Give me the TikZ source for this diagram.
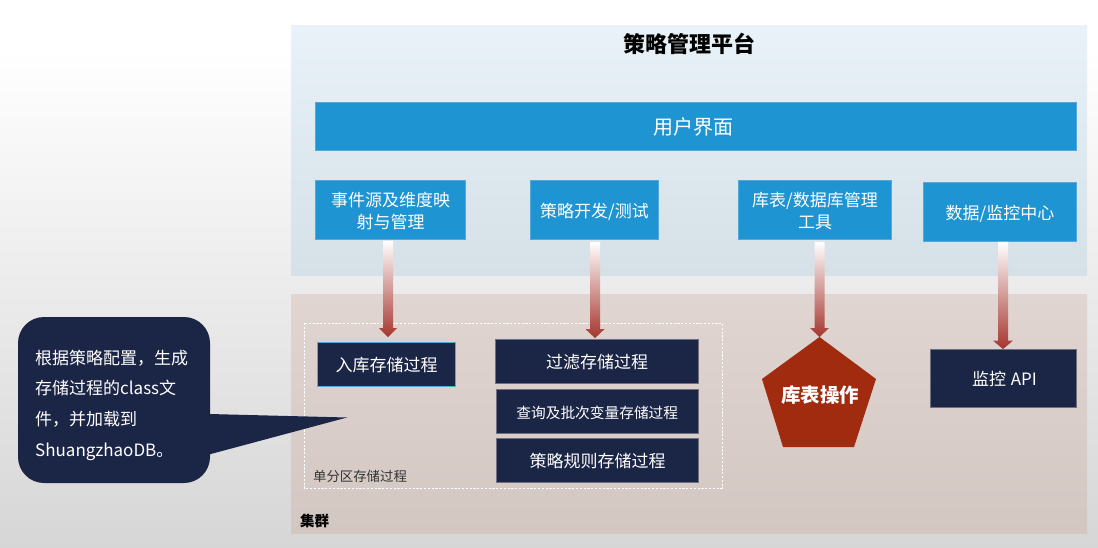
\documentclass[tikz,border=0pt]{standalone}
\usepackage{fontspec}
\setmainfont{Noto Sans CJK SC}
\usetikzlibrary{shapes.geometric,calc}
\definecolor{navy}{HTML}{1B2545}
\definecolor{sky}{HTML}{1F94D2}
\definecolor{skyline}{HTML}{55A9DA}
\definecolor{rust}{HTML}{A12B0E}
\definecolor{arrowred}{HTML}{A5352E}
\definecolor{bgbottom}{HTML}{D6D6D6}
\definecolor{upA}{HTML}{E8F2F8}
\definecolor{upB}{HTML}{D5E0E7}
\definecolor{lowA}{HTML}{E0D5D1}
\definecolor{lowB}{HTML}{D3C7C2}
\definecolor{navyline}{HTML}{6E6F80}
\tikzset{
  x=1pt,y=-1pt,
  bluebox/.style={draw=skyline,line width=.6pt,fill=sky,text=white,align=center,inner sep=0pt,font=\fontsize{17}{21.5}\selectfont},
  navybox/.style={draw=navyline,line width=.6pt,fill=navy,text=white,align=center,inner sep=0pt,font=\fontsize{17}{21.5}\selectfont},
  plainlabel/.style={inner sep=0pt,anchor=center},
}
\newcommand{\boxat}[7]{\node[#1,minimum width={(#5-#3-.8)*1pt},minimum height={(#6-#4-.8)*1pt}] (#2) at ({(#3+#5)/2},{(#4+#6)/2}) {\raisebox{0pt}[\dimexpr\height+6pt\relax][\depth]{\begin{tabular}{@{}c@{}}#7\end{tabular}}};}
% gradient block arrow between two named coordinates; #3 half shaft, #4 head half, #5 head length
\newcommand{\gradarrow}[5]{%
  \path let \p1=(#1),\p2=(#2) in
    [top color=white,bottom color=arrowred,shading angle=0]
    (\x1-#3pt,\y1) -- (\x1+#3pt,\y1) -- (\x1+#3pt,\y2+#5pt) -- (\x1+#4pt,\y2+#5pt)
    -- (\x2,\y2) -- (\x1-#4pt,\y2+#5pt) -- (\x1-#3pt,\y2+#5pt) -- cycle;}
\begin{document}
\begin{tikzpicture}
\useasboundingbox (0,0) rectangle (1098,548);
\fill[white] (0,0) rectangle (1098,50);
\shade[top color=white,bottom color=bgbottom] (0,50) rectangle (1098,548);
% panels
\shade[top color=upA,bottom color=upB] (291,26) rectangle (1087,275);
\shade[top color=lowA,bottom color=lowB] (291,294) rectangle (1087,533);
\node[plainlabel,font=\bfseries\fontsize{22}{26}\selectfont] (title) at (689,44) {策略管理平台};
\node[plainlabel,font=\bfseries\fontsize{14.5}{18}\selectfont] (cluster) at (314.5,521) {集群};
% dashed group
\draw[white,line width=.7pt,dash pattern=on 2.2pt off 1.6pt] (304,323) rectangle (722,488);
\node[plainlabel,text=black!80,font=\fontsize{13.4}{16}\selectfont] (partition) at (360,476.5) {单分区存储过程};
% blue boxes
\boxat{bluebox,font=\fontsize{20}{24}\selectfont}{ui}{315}{102}{1077}{151}{\hspace{-5pt}用户界面}
\boxat{bluebox}{evt}{315}{180}{466}{240}{事件源及维度映\\射与管理}
\boxat{bluebox}{dev}{530}{180}{659}{240}{策略开发/测试}
\boxat{bluebox}{tool}{738}{180}{892}{240}{库表/数据库管理\\工具}
\boxat{bluebox}{mon}{923}{182}{1077}{242}{数据/监控中心}
% navy boxes
\boxat{navybox,draw=skyline}{ingest}{317}{342}{456}{387}{入库存储过程}
\boxat{navybox}{filter}{495}{339}{699}{384}{过滤存储过程}
\boxat{navybox,font=\fontsize{14.7}{18}\selectfont}{query}{495.5}{389}{699}{434}{查询及批次变量存储过程}
\boxat{navybox}{rule}{496}{438}{699}{483}{策略规则存储过程}
\boxat{navybox}{api}{930}{349}{1077}{408}{\hspace{2pt}监控\hspace{1pt} API}
% pentagon
\coordinate (p1) at (819.5,337);
\fill[rust] (p1) -- (876,379) -- (854,447) -- (783,447) -- (762,379) -- cycle;
\node[plainlabel,text=white,font=\bfseries\fontsize{19.5}{24}\selectfont] (ops) at (820,395) {库表操作};
% arrows
\coordinate (a1s) at ($(evt.south)+(-2.5,1)$);
\coordinate (a1t) at ($(ingest.north)+(1.5,-5)$);
\coordinate (a2s) at ($(dev.south)+(.5,2)$);
\coordinate (a2t) at ($(filter.north)+(-2,-1)$);
\coordinate (a3s) at ($(tool.south)+(4.5,2)$);
\coordinate (a4s) at ($(mon.south)+(3,0)$);
\coordinate (a4t) at ($(api.north)+(-.5,0)$);
\gradarrow{a1s}{a1t}{5}{9}{9}
\gradarrow{a2s}{a2t}{5}{9.5}{9}
\gradarrow{a3s}{p1}{5}{9.5}{9}
\gradarrow{a4s}{a4t}{5}{10}{8.5}
% callout
\fill[navy,rounded corners=26pt] (18,317) rectangle (210,483);
\fill[navy] (209,414) -- (347,417.5) -- (209,454.5) -- cycle;
\node[anchor=north west,inner sep=0pt,text=white,align=left,font=\fontsize{17}{30.7}\selectfont] (note) at (35,349.5) {根据策略配置，生成\\存储过程的class文\\件，并加载到\\ShuangzhaoDB。};
\end{tikzpicture}
\end{document}
